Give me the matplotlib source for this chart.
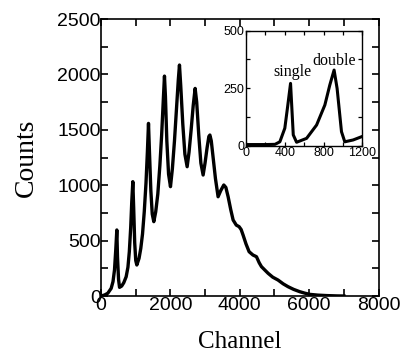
import matplotlib
matplotlib.use("Agg")
import matplotlib.pyplot as plt
from matplotlib.ticker import MultipleLocator

# main spectrum (channel, counts)
channel = [0, 106, 200, 297, 350, 393, 430, 460, 480, 510, 538,
           600, 660, 729, 780, 820, 860, 890, 921, 945, 975, 1005, 1036,
           1100, 1150, 1200, 1250, 1300, 1340, 1372, 1400, 1440, 1480, 1525,
           1580, 1640, 1700, 1750, 1800, 1832, 1860, 1900, 1950, 2005,
           2060, 2120, 2180, 2230, 2264, 2300, 2360, 2420, 2485,
           2540, 2600, 2660, 2715, 2760, 2820, 2880, 2945,
           3000, 3060, 3110, 3140, 3180, 3240, 3300, 3376,
           3450, 3540, 3600, 3665, 3740, 3809, 3900, 3981, 4040, 4096, 4180, 4269,
           4380, 4481, 4560, 4625, 4720, 4816, 4950, 5103, 5250, 5391, 5550, 5727,
           5870, 6015, 6250, 6500, 6800, 7000]
counts = [0, 9, 25, 69, 130, 235, 420, 596, 350, 150, 78,
          90, 120, 174, 260, 400, 620, 850, 1032, 800, 480, 320, 280,
          340, 430, 560, 760, 1020, 1300, 1558, 1300, 950, 740, 671,
          760, 920, 1180, 1450, 1780, 1985, 1800, 1400, 1100, 987,
          1150, 1400, 1700, 1950, 2085, 1900, 1550, 1280, 1167,
          1300, 1500, 1720, 1874, 1750, 1450, 1200, 1092,
          1200, 1340, 1440, 1453, 1400, 1230, 1060, 896,
          950, 1002, 980, 896, 780, 686, 640, 626, 600, 550, 470, 400,
          370, 355, 300, 265, 235, 205, 170, 144, 110, 84, 60, 39,
          26, 15, 8, 4, 1, 0]

# inset: low channel region
ins_channel = [0, 100, 200, 300, 350, 401, 430, 460, 488, 522, 625, 728, 813, 864,
               908, 939, 984, 1018, 1104, 1190]
ins_counts = [5, 5, 5, 6, 17, 76, 170, 271, 47, 15, 32, 90, 177, 264,
              329, 249, 61, 17, 25, 39]

sans = "Liberation Sans"
serif = "Liberation Serif"

fig = plt.figure(figsize=(4.05, 3.56), dpi=100)
ax = fig.add_axes([0.249, 0.1685, 0.686, 0.778])
ax.plot(channel, counts, color="black", lw=2.4)
ax.set_xlim(0, 8000)
ax.set_ylim(0, 2500)
ax.xaxis.set_major_locator(MultipleLocator(2000))
ax.xaxis.set_minor_locator(MultipleLocator(1000))
ax.yaxis.set_major_locator(MultipleLocator(500))
ax.yaxis.set_minor_locator(MultipleLocator(250))
ax.tick_params(which="both", direction="in", top=True, right=True, width=1.2)
ax.tick_params(which="major", length=5)
ax.tick_params(which="minor", length=5)
ax.tick_params(axis="y", pad=0)
ax.tick_params(axis="x", pad=1)
for lab in ax.get_xticklabels() + ax.get_yticklabels():
    lab.set_fontfamily(sans)
    lab.set_fontsize(14)
for s in ax.spines.values():
    s.set_linewidth(1.2)
ax.set_xlabel("Channel", fontfamily=serif, fontsize=18, labelpad=12)
ax.set_ylabel("Counts", fontfamily=serif, fontsize=20, labelpad=13)

# inset
ins = fig.add_axes([0.607, 0.5907, 0.288, 0.323])
ins.plot(ins_channel, ins_counts, color="black", lw=2.2)
ins.set_xlim(0, 1200)
ins.set_ylim(0, 500)
ins.xaxis.set_major_locator(MultipleLocator(400))
ins.xaxis.set_minor_locator(MultipleLocator(200))
ins.yaxis.set_major_locator(MultipleLocator(250))
ins.yaxis.set_minor_locator(MultipleLocator(125))
ins.tick_params(which="both", direction="in", top=True, right=True, width=0.9,
                length=3, pad=1)
for lab in ins.get_xticklabels() + ins.get_yticklabels():
    lab.set_fontfamily(sans)
    lab.set_fontsize(9)
for s in ins.spines.values():
    s.set_linewidth(1.0)
ins.text(483, 305, "single", fontfamily=serif, fontsize=11.5, ha="center", va="baseline")
ins.text(910, 352, "double", fontfamily=serif, fontsize=11.5, ha="center", va="baseline")

fig.savefig("out.png", dpi=100)
